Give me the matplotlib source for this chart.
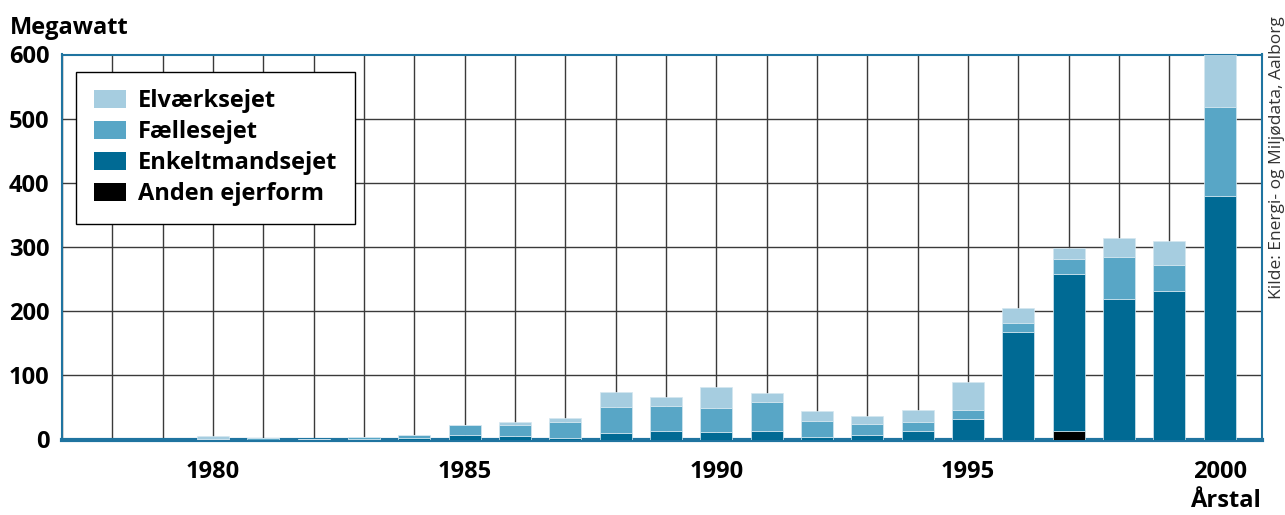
import matplotlib
matplotlib.use("Agg")
import matplotlib.pyplot as plt
from matplotlib.patches import Patch
import numpy as np

years = list(range(1977, 2001))
anden = [0, 0, 0, 0, 0, 0, 0, 0, 0, 0, 0, 0, 0, 0, 0, 0, 0, 0, 0, 0, 14, 0, 0, 0]
enkelt = [0, 0, 0, 0.5, 0, 0, 0.5, 2, 7.5, 5, 3, 10, 14, 12, 13, 3.5, 7, 14, 31.5,
          168, 244, 218.5, 231.5, 380]
faelles = [0, 0, 0, 0.5, 2, 1.5, 3.5, 5, 15.5, 18, 25, 40, 38, 37, 46, 25.5, 16.5, 13,
           15, 13, 23, 66, 40.5, 138]
elv = [0, 0, 0, 4, 0.5, 0, 0, 0, 0, 4.5, 6, 24, 15, 33, 14, 16, 13.5, 19, 43.5,
       23.5, 18, 29, 38, 82]
labels = ["Elværksejet", "Fællesejet", "Enkeltmandsejet", "Anden ejerform"]
yticks = [0, 100, 200, 300, 400, 500, 600]
xlabels_years = [1980, 1985, 1990, 1995, 2000]

c_elv = "#a6cde0"
c_fael = "#58a6c6"
c_enk = "#006a94"
c_and = "#000000"
spine_c = "#1f74a0"

FONT = "Open Sans"
plt.rcParams["font.family"] = [FONT, "DejaVu Sans"]

fig = plt.figure(figsize=(12.85, 5.15), dpi=100)
ax = fig.add_axes([62/1285, 1-439.5/515, 1200/1285, 385/515])

x = np.array(years)
a = np.array(anden, dtype=float)
e = np.array(enkelt, dtype=float)
f = np.array(faelles, dtype=float)
l = np.array(elv, dtype=float)
w = 0.64
kw = dict(width=w, edgecolor="#d4e7f0", linewidth=0.5, zorder=3)
ax.bar(x, a, color=c_and, **kw)
ax.bar(x, e, bottom=a, color=c_enk, **kw)
ax.bar(x, f, bottom=a+e, color=c_fael, **kw)
ax.bar(x, l, bottom=a+e+f, color=c_elv, **kw)

ax.set_xlim(1977.04, 2000.84)
ax.set_ylim(0, 600)
ax.set_xticks(years)
ax.set_xticklabels([str(y) if y in xlabels_years else "" for y in years])
ax.set_yticks(yticks)
ax.set_yticklabels([str(v) for v in yticks])
ax.tick_params(axis="both", length=0, labelsize=17)
ax.tick_params(axis="x", pad=15)
ax.tick_params(axis="y", pad=9)
for t in ax.get_xticklabels() + ax.get_yticklabels():
    t.set_fontweight("bold")
ax.grid(True, color="#3a3a3a", linewidth=1.0, zorder=1)
ax.set_axisbelow(True)
for s in ["left", "top", "right"]:
    ax.spines[s].set_color(spine_c)
    ax.spines[s].set_linewidth(1.5)
ax.spines["bottom"].set_color(spine_c)
ax.spines["bottom"].set_linewidth(3)

handles = [Patch(facecolor=c_elv), Patch(facecolor=c_fael), Patch(facecolor=c_enk),
           Patch(facecolor=c_and)]
leg = ax.legend(handles, labels, loc="upper left",
                bbox_to_anchor=((76-62)/1200, 1-(71.5-54.5)/385),
                borderaxespad=0, frameon=True, fancybox=False, framealpha=1,
                edgecolor="black", handlelength=1.36, handleheight=0.8,
                handletextpad=0.5, labelspacing=0.3, borderpad=0.75,
                prop={"family": FONT, "weight": "bold", "size": 17})
leg.get_frame().set_linewidth(1.0)
leg.set_zorder(5)

fig.text(10/1285, 1-28/515, "Megawatt", fontsize=17, fontweight="bold",
         ha="left", va="center")
fig.text(1261/1285, 1-507/515, "Årstal", fontsize=17, fontweight="bold",
         ha="right", va="baseline")
fig.text(1277/1285, 1-158/515, "Kilde: Energi- og Miljødata, Aalborg", fontsize=12.5,
         rotation=90, ha="center", va="center", color="#333333")

fig.savefig("out.png", dpi=100)
